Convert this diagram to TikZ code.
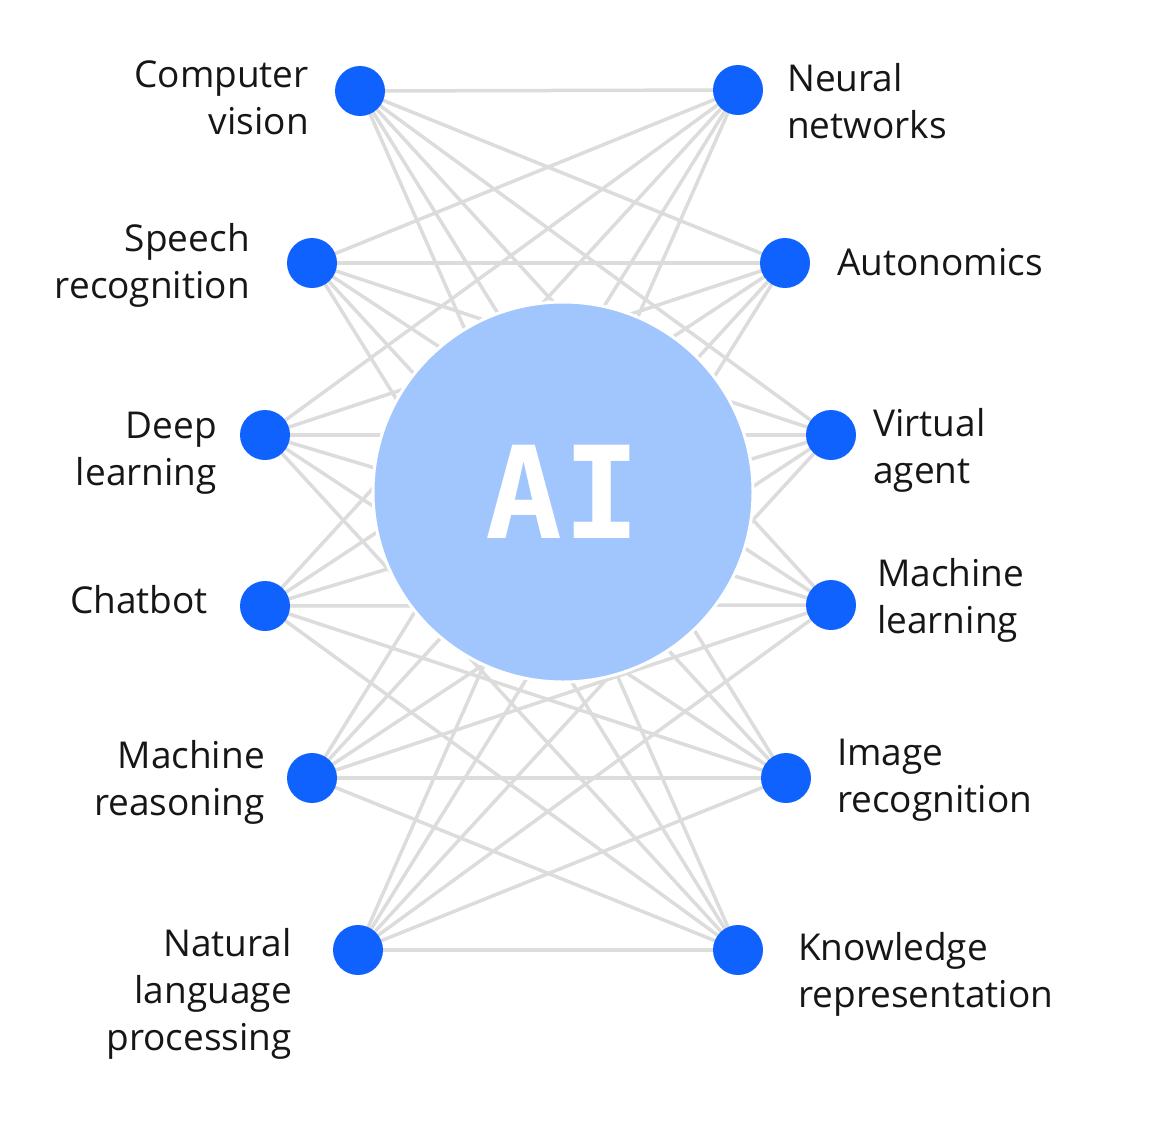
\documentclass[tikz,border=0pt]{standalone}
\usepackage{fontspec}
\setmainfont{Open Sans}
\newfontfamily\aifont{DejaVu Sans Mono}
\usetikzlibrary{backgrounds}

\definecolor{dotblue}{HTML}{0F62FE}
\definecolor{hubblue}{HTML}{A0C6FD}
\definecolor{linkgray}{HTML}{DCDCDC}
\definecolor{labeltext}{HTML}{161616}

\begin{document}
\begin{tikzpicture}[x=1pt,y=-1pt,
   font=\fontsize{37}{47}\selectfont,
   dot/.style={circle,fill=dotblue,minimum size=50pt,inner sep=0pt},
   hub/.style={circle,fill=hubblue,draw=white,line width=3pt,minimum size=380pt,
      inner sep=0pt,text=white,font=\aifont\bfseries\fontsize{128}{128}\selectfont},
   link/.style={linkgray,line width=3.5pt},
   lab/.style={text=labeltext,inner sep=0pt}]
\useasboundingbox (0,0) rectangle (1164,1120);
% left column
\node[dot] (L1) at (360,91) {};
\node[dot] (L2) at (312,263) {};
\node[dot] (L3) at (265,435) {};
\node[dot] (L4) at (265,606) {};
\node[dot] (L5) at (312,778) {};
\node[dot] (L6) at (358,950) {};
% right column
\node[dot] (R1) at (738,90) {};
\node[dot] (R2) at (785,263) {};
\node[dot] (R3) at (831,435) {};
\node[dot] (R4) at (831,605) {};
\node[dot] (R5) at (786,778) {};
\node[dot] (R6) at (738,950) {};
% centre
\node[hub] (AI) at (563,492) {AI};
% every left dot to every right dot
\begin{scope}[on background layer]
\foreach \i in {1,...,6}
  \foreach \j in {1,...,6}
    \draw[link] (L\i.center) -- (R\j.center);
\end{scope}
% labels (base = last line)
\node[lab,anchor=base east,align=right] (cv) at (309,134) {Computer\\vision};
\node[lab,anchor=base east,align=right] (sr) at (250,298) {Speech\\recognition};
\node[lab,anchor=base east,align=right] (dl) at (217,485) {Deep\\learning};
\node[lab,anchor=base east,align=right] (cb) at (208,613) {Chatbot};
\node[lab,anchor=base east,align=right] (mr) at (265,815) {Machine\\reasoning};
\node[lab,anchor=base east,align=right] (nlp) at (292,1050) {Natural\\language\\processing};
\node[lab,anchor=base west,align=left] (nn) at (787,138) {Neural\\networks};
\node[lab,anchor=base west,align=left] (au) at (837,275) {Autonomics};
\node[lab,anchor=base west,align=left] (va) at (873,483) {Virtual\\agent};
\node[lab,anchor=base west,align=left] (ml) at (877,633) {Machine\\learning};
\node[lab,anchor=base west,align=left] (ir) at (837,812) {Image\\recognition};
\node[lab,anchor=base west,align=left] (kr) at (798,1007) {Knowledge\\representation};
\end{tikzpicture}
\end{document}
